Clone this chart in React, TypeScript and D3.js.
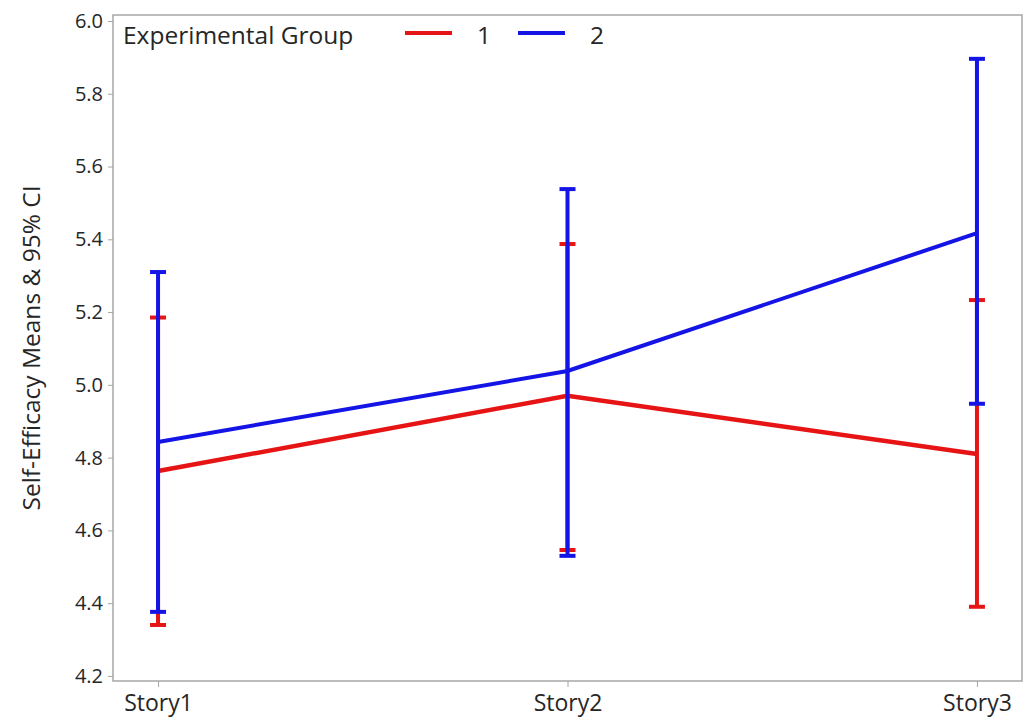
import * as d3 from "d3";
import { useEffect, useRef } from "react";

// values
const stories = ["Story1", "Story2", "Story3"];
const groups = ["1", "2"];
const groupColors = ["#e61414", "#1414e6"];
const group1Means = [4.763, 4.970, 4.810];
const group1Lower = [4.340, 4.546, 4.390];
const group1Upper = [5.185, 5.387, 5.233];
const group2Means = [4.843, 5.038, 5.417];
const group2Lower = [4.376, 4.530, 4.948];
const group2Upper = [5.310, 5.538, 5.896];
const yTicks = [4.2, 4.4, 4.6, 4.8, 5.0, 5.2, 5.4, 5.6, 5.8, 6.0];

const FONT = "'Open Sans', Lato, sans-serif";

const App = () => {
  const svgRef = useRef<SVGSVGElement | null>(null);

  useEffect(() => {
    document.body.style.margin = "0";
    const svg = d3.select(svgRef.current);
    svg.selectAll("*").remove();

    const left = 113, right = 1022, top = 15, bottom = 681;

    const x = d3.scalePoint().domain(stories).range([left, right]).padding(0.11);
    const y = d3.scaleLinear().domain([4.186, 6.0165]).range([bottom, top]);

    svg.append("rect")
      .attr("width", 1029).attr("height", 721).attr("fill", "#ffffff");

    // frame
    svg.append("rect")
      .attr("x", left).attr("y", top)
      .attr("width", right - left).attr("height", bottom - top)
      .attr("fill", "none").attr("stroke", "#a6a6a6").attr("stroke-width", 1.5);

    const yAxis = svg.append("g")
      .attr("transform", "translate(" + left + ",0)")
      .call(d3.axisLeft(y).tickValues(yTicks).tickFormat(d3.format(".1f")).tickSize(5).tickPadding(5));
    yAxis.select(".domain").remove();
    yAxis.selectAll("line").attr("stroke", "#a6a6a6");
    yAxis.selectAll("text")
      .attr("fill", "#262626").style("font-family", FONT).style("font-size", "20px");

    const xAxis = svg.append("g")
      .attr("transform", "translate(0," + bottom + ")")
      .call(d3.axisBottom(x).tickSize(6).tickPadding(8));
    xAxis.select(".domain").remove();
    xAxis.selectAll("line").attr("stroke", "#a6a6a6");
    xAxis.selectAll("text")
      .attr("fill", "#262626").style("font-family", FONT).style("font-size", "23px");

    svg.append("text")
      .attr("transform", "translate(40," + (top + bottom) / 2 + ") rotate(-90)")
      .attr("text-anchor", "middle")
      .attr("fill", "#262626")
      .style("font-family", FONT).style("font-size", "24.5px")
      .style("font-variant-ligatures", "none")
      .text("Self-Efficacy Means & 95% CI");

    const series = [
      { means: group1Means, lower: group1Lower, upper: group1Upper, width: 4.5 },
      { means: group2Means, lower: group2Lower, upper: group2Upper, width: 4 },
    ];

    const line = d3.line<number>()
      .x((d, i) => x(stories[i]) as number)
      .y((d) => y(d));

    series.forEach((s, gi) => {
      const color = groupColors[gi];
      const g = svg.append("g");
      g.append("path")
        .datum(s.means)
        .attr("d", line)
        .attr("fill", "none")
        .attr("stroke", color)
        .attr("stroke-width", s.width);

      stories.forEach((st, i) => {
        const cx = x(st) as number;
        g.append("line")
          .attr("x1", cx).attr("x2", cx)
          .attr("y1", y(s.lower[i])).attr("y2", y(s.upper[i]))
          .attr("stroke", color).attr("stroke-width", 4);
        [s.lower[i], s.upper[i]].forEach((v) => {
          g.append("line")
            .attr("x1", cx - 8).attr("x2", cx + 8)
            .attr("y1", y(v)).attr("y2", y(v))
            .attr("stroke", color).attr("stroke-width", 4);
        });
      });
    });

    // legend
    const legend = svg.append("g");
    legend.append("text")
      .attr("x", 123).attr("y", 44)
      .attr("fill", "#262626")
      .style("font-family", FONT).style("font-size", "24.5px")
      .text("Experimental Group");
    const legendX = [405, 518];
    groups.forEach((gName, i) => {
      legend.append("line")
        .attr("x1", legendX[i]).attr("x2", legendX[i] + 47)
        .attr("y1", 33).attr("y2", 33)
        .attr("stroke", groupColors[i]).attr("stroke-width", 4);
      legend.append("text")
        .attr("x", legendX[i] + 72).attr("y", 44)
        .attr("fill", "#262626")
        .style("font-family", FONT).style("font-size", "24.5px")
        .text(gName);
    });
  }, []);

  return (
    <svg ref={svgRef} width={1029} height={721} style={{ display: "block" }} />
  );
};

export default App;
